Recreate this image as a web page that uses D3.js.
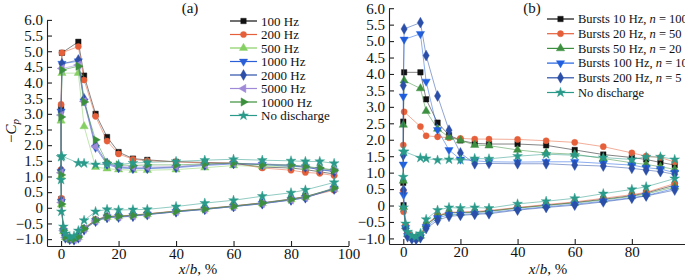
<!DOCTYPE html>
<html>
<head>
<meta charset="utf-8">
<script src="https://cdn.jsdelivr.net/npm/d3@7"></script>
<style>
body { margin: 0; background: #fff; }
svg text { font-family: "Liberation Serif", "Times New Roman", Times, serif; }
</style>
</head>
<body>
<svg width="685" height="276"></svg>
<script>
// tap positions: upper surface (TE -> LE), leading edge, lower surface (LE -> TE)
const xUpper = [95, 90, 85, 80, 70, 60, 50, 40, 30, 25, 20, 16, 12, 8, 6, 0.3];
const xLead = [0, 0, 0.1];
const xLower = [0.8, 1.5, 3, 4.5, 6, 8, 12, 16, 20, 25, 30, 40, 50, 60, 70, 80, 85, 95];

const yTicks = [-1, -0.5, 0, 0.5, 1, 1.5, 2, 2.5, 3, 3.5, 4, 4.5, 5, 5.5, 6];
const xTicksA = [0, 20, 40, 60, 80, 100];
const xTicksB = [0, 20, 40, 60, 80];

// panel (a)
const namesA = ['100 Hz', '200 Hz', '500 Hz', '1000 Hz', '2000 Hz', '5000 Hz', '10000 Hz', 'No discharge'];
const upperA = [
    [1.08, 1.15, 1.22, 1.27, 1.30, 1.42, 1.45, 1.47, 1.53, 1.57, 1.78, 2.26, 3.00, 4.22, 5.30, 4.95],
    [1.03, 1.10, 1.13, 1.20, 1.27, 1.43, 1.43, 1.47, 1.50, 1.55, 1.72, 2.13, 2.92, 4.08, 5.15, 4.95],
    [1.22, 1.25, 1.30, 1.33, 1.32, 1.35, 1.28, 1.22, 1.20, 1.20, 1.22, 1.25, 1.30, 2.60, 4.30, 4.30],
    [1.17, 1.22, 1.30, 1.32, 1.38, 1.40, 1.35, 1.28, 1.25, 1.25, 1.27, 1.38, 1.92, 3.40, 4.68, 4.60],
    [1.15, 1.22, 1.30, 1.35, 1.40, 1.42, 1.38, 1.30, 1.27, 1.27, 1.30, 1.42, 2.00, 3.48, 4.72, 4.60],
    [1.20, 1.25, 1.32, 1.37, 1.40, 1.42, 1.38, 1.32, 1.30, 1.30, 1.32, 1.40, 1.95, 3.40, 4.56, 4.45],
    [1.20, 1.27, 1.32, 1.37, 1.37, 1.43, 1.40, 1.37, 1.37, 1.35, 1.37, 1.45, 2.17, 3.38, 4.52, 4.40],
    [1.42, 1.48, 1.48, 1.50, 1.52, 1.55, 1.52, 1.48, 1.45, 1.43, 1.38, 1.40, 1.38, 1.42, 1.43, 1.65]
];
const leadA = [
    [3.20, 1.18, 0.28],
    [3.30, 1.22, 0.30],
    [2.78, 1.00, 0.10],
    [3.08, 1.15, 0.20],
    [3.06, 1.20, 0.22],
    [2.96, 1.12, 0.17],
    [2.90, 1.05, 0.12],
    [1.62, 0.89, -0.12]
];
const lowerA = [
    [-0.72, -0.92, -0.98, -1.00, -0.93, -0.66, -0.39, -0.28, -0.27, -0.24, -0.20, -0.11, -0.03, 0.06, 0.16, 0.28, 0.36, 0.60],
    [-0.70, -0.90, -0.97, -0.98, -0.92, -0.65, -0.38, -0.27, -0.26, -0.23, -0.19, -0.10, -0.03, 0.06, 0.15, 0.27, 0.35, 0.56],
    [-0.75, -0.95, -1.00, -1.00, -0.95, -0.68, -0.41, -0.30, -0.28, -0.25, -0.21, -0.12, -0.04, 0.05, 0.14, 0.26, 0.34, 0.60],
    [-0.74, -0.95, -1.00, -1.02, -0.95, -0.69, -0.42, -0.30, -0.29, -0.26, -0.21, -0.13, -0.05, 0.04, 0.13, 0.25, 0.32, 0.62],
    [-0.75, -0.96, -1.01, -1.02, -0.96, -0.70, -0.43, -0.31, -0.30, -0.27, -0.22, -0.13, -0.05, 0.04, 0.13, 0.25, 0.32, 0.60],
    [-0.73, -0.95, -1.00, -1.01, -0.95, -0.68, -0.42, -0.30, -0.29, -0.26, -0.21, -0.12, -0.05, 0.04, 0.14, 0.25, 0.33, 0.63],
    [-0.72, -0.93, -0.99, -1.00, -0.93, -0.67, -0.40, -0.28, -0.27, -0.24, -0.20, -0.11, -0.04, 0.05, 0.15, 0.27, 0.35, 0.63],
    [-0.60, -0.82, -0.93, -0.90, -0.73, -0.40, -0.12, -0.05, -0.07, -0.06, -0.05, 0.04, 0.15, 0.24, 0.37, 0.48, 0.57, 0.81]
];

// panel (b)
const namesB = ['Bursts 10 Hz, |n| = 100', 'Bursts 20 Hz, |n| = 50', 'Bursts 50 Hz, |n| = 20',
    'Bursts 100 Hz, |n| = 10', 'Bursts 200 Hz, |n| = 5', 'No discharge'];
const upperB = [
    [1.23, 1.31, 1.40, 1.46, 1.55, 1.69, 1.83, 1.87, 1.87, 1.89, 1.98, 2.14, 2.52, 3.23, 4.05, 4.05],
    [1.32, 1.46, 1.50, 1.60, 1.79, 1.92, 1.97, 2.01, 2.02, 2.02, 2.04, 2.06, 2.09, 2.12, 2.40, 2.85],
    [1.10, 1.18, 1.25, 1.30, 1.43, 1.56, 1.60, 1.69, 1.82, 1.84, 1.98, 2.08, 2.33, 2.87, 3.56, 3.80],
    [1.00, 1.11, 1.15, 1.23, 1.28, 1.33, 1.33, 1.32, 1.33, 1.36, 1.40, 1.69, 2.30, 3.77, 5.22, 5.05],
    [0.95, 1.03, 1.08, 1.13, 1.20, 1.23, 1.27, 1.27, 1.28, 1.27, 1.60, 2.29, 3.33, 4.56, 5.56, 5.37],
    [1.40, 1.48, 1.48, 1.40, 1.46, 1.53, 1.56, 1.50, 1.42, 1.43, 1.38, 1.40, 1.38, 1.43, 1.45, 1.64]
];
const leadB = [
    [2.55, 0.69, 0.01],
    [1.84, 0.45, -0.19],
    [2.45, 0.75, -0.05],
    [3.32, 1.25, 0.32],
    [3.65, 1.53, 0.47],
    [1.64, 0.87, -0.06]
];
const lowerB = [
    [-0.65, -0.88, -0.97, -1.00, -0.93, -0.60, -0.32, -0.22, -0.21, -0.20, -0.17, -0.07, 0.01, 0.09, 0.19, 0.30, 0.38, 0.62],
    [-0.60, -0.85, -0.95, -0.98, -0.90, -0.57, -0.30, -0.20, -0.20, -0.18, -0.15, -0.06, 0.03, 0.11, 0.22, 0.33, 0.40, 0.67],
    [-0.63, -0.87, -0.96, -1.00, -0.92, -0.58, -0.33, -0.23, -0.22, -0.21, -0.18, -0.08, 0.00, 0.08, 0.17, 0.28, 0.35, 0.57],
    [-0.68, -0.92, -1.00, -1.02, -0.96, -0.65, -0.38, -0.28, -0.27, -0.25, -0.22, -0.12, -0.04, 0.04, 0.13, 0.24, 0.30, 0.52],
    [-0.70, -0.95, -1.02, -1.03, -0.98, -0.70, -0.45, -0.33, -0.30, -0.27, -0.25, -0.14, -0.06, 0.01, 0.11, 0.22, 0.29, 0.47],
    [-0.55, -0.80, -0.92, -0.95, -0.85, -0.42, -0.14, -0.06, -0.08, -0.06, -0.08, 0.05, 0.13, 0.22, 0.36, 0.49, 0.57, 0.82]
];

// styles
const colorsA = ['#111111', '#e5603a', '#86cf62', '#2a5fd8', '#2d4fa8', '#a08ad8', '#3c8f3c', '#2a9a8a'];
const shapesA = ['square', 'circle', 'triUp', 'triDown', 'diamond', 'triLeft', 'triRight', 'star'];
const colorsB = ['#111111', '#e5603a', '#3c9040', '#2060e0', '#2b4fa8', '#2a9a8a'];
const shapesB = ['square', 'circle', 'triUp', 'triDown', 'diamond', 'star'];

const xAll = xUpper.concat(xLead, xLower);
const svg = d3.select('svg');
const serif = '"Liberation Serif", "Times New Roman", Times, serif';

const symbolOf = {
    square: [d3.symbolSquare, 30, 0],
    circle: [d3.symbolCircle, 30, 0],
    triUp: [d3.symbolTriangle, 30, 0],
    triDown: [d3.symbolTriangle, 30, 180],
    diamond: [d3.symbolDiamond, 34, 0],
    triLeft: [d3.symbolTriangle, 30, -90],
    triRight: [d3.symbolTriangle, 30, 90],
    star: [d3.symbolStar, 30, 0]
};

function marker(g, shape, color, x, y) {
    const s = symbolOf[shape];
    g.append('path')
        .attr('d', d3.symbol().type(s[0]).size(s[1])())
        .attr('transform', `translate(${x},${y}) rotate(${s[2]})`)
        .attr('fill', color)
        .attr('stroke', color)
        .attr('stroke-width', 0.4);
}

function drawPanel(p) {
    const x = d3.scaleLinear().domain(p.xDomain).range(p.xRange);
    const y = d3.scaleLinear().domain(p.yDomain).range(p.yRange);

    const ax = svg.append('g')
        .attr('transform', `translate(0,${p.yRange[0]})`)
        .call(d3.axisBottom(x).tickValues(p.xTicks).tickSizeInner(-5).tickSizeOuter(0).tickPadding(2)
            .tickFormat(d3.format('d')));
    const ay = svg.append('g')
        .attr('transform', `translate(${p.xRange[0]},0)`)
        .call(d3.axisLeft(y).tickValues(yTicks).tickSizeInner(-5).tickSizeOuter(0).tickPadding(4)
            .tickFormat(d => d === 0 ? '0' : d3.format('.1f')(d)));
    [ax, ay].forEach(a => {
        a.attr('font-family', serif).attr('font-size', 15);
        a.selectAll('text').attr('fill', '#111');
        a.selectAll('line,path').attr('stroke', '#222').attr('stroke-width', 1.1);
    });

    const line = d3.line().x(d => x(d[0])).y(d => y(d[1]));
    p.names.forEach((name, i) => {
        const vals = p.upper[i].concat(p.lead[i], p.lower[i]);
        const pts = xAll.map((xv, k) => [xv, vals[k]]);
        const g = svg.append('g');
        g.append('path')
            .attr('d', line(pts))
            .attr('fill', 'none')
            .attr('stroke', p.colors[i])
            .attr('stroke-opacity', 0.65)
            .attr('stroke-width', 0.8);
        pts.forEach(d => marker(g, p.shapes[i], p.colors[i], x(d[0]), y(d[1])));
    });

    // legend
    const lg = svg.append('g');
    p.names.forEach((name, i) => {
        const yy = p.legY + i * p.legStep;
        lg.append('line')
            .attr('x1', p.legX).attr('x2', p.legX + 27)
            .attr('y1', yy).attr('y2', yy)
            .attr('stroke', p.colors[i]).attr('stroke-width', 1.2);
        marker(lg, p.shapes[i], p.colors[i], p.legX + 13.5, yy);
        const t = lg.append('text')
            .attr('x', p.legX + 31).attr('y', yy).attr('dy', '0.35em')
            .attr('font-size', p.legFont).attr('fill', '#111');
        name.split('|').forEach((part, k) => {
            t.append('tspan').text(part).attr('font-style', k % 2 ? 'italic' : 'normal');
        });
    });

    // title and x label
    svg.append('text').attr('x', p.titleX).attr('y', 13).attr('text-anchor', 'middle')
        .attr('font-size', 15).attr('fill', '#111').text(p.title);
    const xl = svg.append('text').attr('x', p.xLabelX).attr('y', 274).attr('text-anchor', 'middle')
        .attr('font-size', 15).attr('fill', '#111');
    xl.append('tspan').attr('font-style', 'italic').text('x');
    xl.append('tspan').text('/');
    xl.append('tspan').attr('font-style', 'italic').text('b');
    xl.append('tspan').text(', %');
}

drawPanel({
    xDomain: [-4.9, 100], xRange: [47, 348.5],
    yDomain: [-1.22, 6.0], yRange: [246, 19.9],
    xTicks: xTicksA,
    names: namesA, upper: upperA, lead: leadA, lower: lowerA,
    colors: colorsA, shapes: shapesA,
    legX: 230, legY: 21, legStep: 13.5, legFont: 13,
    title: '(a)', titleX: 190, xLabelX: 198
});

drawPanel({
    xDomain: [-5, 98.6], xRange: [389, 685],
    yDomain: [-1.17, 6.0], yRange: [244, 8.2],
    xTicks: xTicksB,
    names: namesB, upper: upperB, lead: leadB, lower: lowerB,
    colors: colorsB, shapes: shapesB,
    legX: 547, legY: 19, legStep: 14.7, legFont: 12.5,
    title: '(b)', titleX: 532, xLabelX: 548
});

// y label of panel (a)
const yl = svg.append('text')
    .attr('transform', 'translate(16,131) rotate(-90)')
    .attr('text-anchor', 'middle')
    .attr('font-size', 15).attr('fill', '#111');
yl.append('tspan').text('\u2212');
yl.append('tspan').attr('font-style', 'italic').text('C');
yl.append('tspan').attr('font-style', 'italic').attr('font-size', 11).attr('dy', 3).text('p');
</script>
</body>
</html>
